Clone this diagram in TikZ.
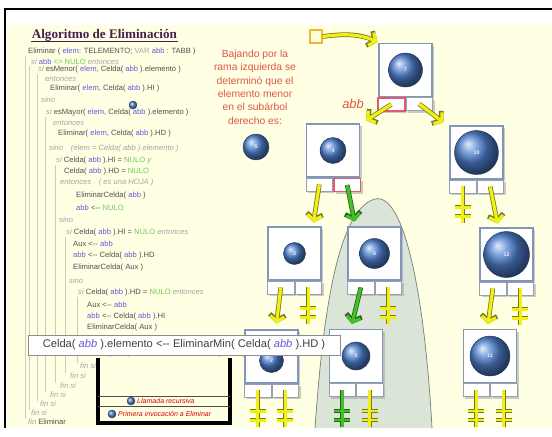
\documentclass[tikz,border=0pt]{standalone}
\usepackage{fontspec}
\setmainfont{Liberation Sans}
\newfontfamily\titlefont{Liberation Serif}
\usetikzlibrary{arrows.meta, shadows}

\definecolor{slidebg}{RGB}{255,255,228}
\definecolor{codetext}{RGB}{80,80,80}
\definecolor{codekw}{RGB}{165,165,165}
\definecolor{codevar}{RGB}{100,90,220}
\definecolor{codenul}{RGB}{110,200,90}
\definecolor{guidecol}{RGB}{205,205,190}
\definecolor{msgred}{RGB}{225,85,70}
\definecolor{titlecol}{RGB}{70,30,80}
\definecolor{boxedge}{RGB}{130,150,185}
\definecolor{celledge}{RGB}{150,160,175}
\definecolor{cellred}{RGB}{225,90,110}
\definecolor{ballblue}{RGB}{80,130,210}
\definecolor{yfill}{RGB}{240,240,20}
\definecolor{yedge}{RGB}{120,120,30}
\definecolor{gfill}{RGB}{70,190,40}
\definecolor{gedge}{RGB}{30,100,20}
\definecolor{subtree}{RGB}{218,228,215}
\definecolor{subedge}{RGB}{120,125,120}
\definecolor{rootedge}{RGB}{235,185,50}

\newcommand{\cdkw}[1]{\textcolor{codekw}{\itshape #1}}
\newcommand{\cdvar}[1]{\textcolor{codevar}{#1}}
\newcommand{\cdnul}[1]{\textcolor{codenul}{#1}}
\newcommand{\nullmark}[2]{\draw[#2] (#1.center) -- ++(0,37) (#1.center) ++(-8,21) -- ++(16,0) (#1.center) ++(-8,30) -- ++(16,0);}

\tikzstyle{code} = [anchor=west, inner sep=0pt, text=codetext, font=\fontsize{6.5}{7}\selectfont]
\tikzstyle{guide} = [draw=guidecol, line width=0.5pt]
\tikzstyle{titletext} = [anchor=west, inner sep=0.5pt, text=titlecol, font=\titlefont\bfseries\fontsize{11.2}{12}\selectfont]
\tikzstyle{msg} = [align=center, inner sep=0pt, text=msgred, font=\fontsize{8.8}{11.4}\selectfont]
\tikzstyle{tnode} = [rectangle, minimum width=1.59cm, minimum height=1.59cm, draw=boxedge, line width=0.9pt, fill=white, drop shadow={shadow xshift=2pt, shadow yshift=-2pt, fill=black!40}]
\tikzstyle{cell} = [rectangle, minimum width=0.795cm, minimum height=0.39cm, draw=celledge, line width=0.7pt, fill=white, drop shadow={shadow xshift=2pt, shadow yshift=-2pt, fill=black!40}]
\tikzstyle{redcell} = [cell, draw=cellred, line width=1.6pt]
\tikzstyle{tball} = [circle, inner sep=0pt, ball color=ballblue, draw=ballblue!45!black, line width=0.4pt, text=white!90!ballblue, font=\bfseries\fontsize{4.5}{4.5}\selectfont]
\tikzstyle{icon} = [circle, inner sep=0pt, minimum size=0.24cm, ball color=ballblue, draw=ballblue!45!black, line width=0.3pt]
\tikzstyle{rootbox} = [rectangle, minimum width=0.36cm, minimum height=0.39cm, draw=rootedge, line width=1.5pt, fill=yellow!15]
\tikzstyle{yarrow} = [draw=yfill, line width=2.7pt, -{Straight Barb[length=4.5pt, width=12pt]}, preaction={draw=yedge, line width=4pt, -{Straight Barb[length=5pt, width=13.5pt]}}]
\tikzstyle{garrow} = [draw=gfill, line width=2.7pt, -{Straight Barb[length=4.5pt, width=12pt]}, preaction={draw=gedge, line width=4pt, -{Straight Barb[length=5pt, width=13.5pt]}}]
\tikzstyle{ynull} = [draw=yfill, line width=2.3pt, preaction={draw=yedge, line width=3.4pt}]
\tikzstyle{gnull} = [draw=gfill, line width=2.3pt, preaction={draw=gedge, line width=3.4pt}]
\tikzstyle{celdabox} = [rectangle, minimum width=9.36cm, minimum height=0.6cm, draw=black!45, line width=0.7pt, fill=white, text=black!75, font=\fontsize{9.5}{10}\selectfont]
\tikzstyle{stackline} = [draw=black, line width=3.2pt, line join=miter]
\tikzstyle{stackrow} = [draw=black!70, line width=0.6pt]
\tikzstyle{stacktext} = [anchor=west, inner sep=0pt, text=red!85!black, font=\itshape\fontsize{6}{7}\selectfont]

\begin{document}
\begin{tikzpicture}[x=0.03cm, y=-0.03cm]
\useasboundingbox (0,0) rectangle (552,436);

% slide
\fill[white] (0,0) rectangle (552,436);
\fill[slidebg] (7,25) rectangle (552,428);
\draw[black, line width=1.6pt] (552,9) -- (5,9) -- (5,428);

% guide lines of the blocks
\draw[guide] (25,56) -- (25,419);
\draw[guide] (29,66) -- (29,410);
\draw[guide] (37,74) -- (37,401);
\draw[guide] (45,117) -- (45,392);
\draw[guide] (55,165) -- (55,383);
\draw[guide] (65,237) -- (65,373);
\draw[guide] (77,297) -- (77,363);

% algorithm
\node[titletext] (title) at (31,35) {Algoritmo de Eliminación};
\draw[titlecol, line width=0.9pt] (title.south west) -- (title.south east);
\node[code] (c01) at (28,52) {Eliminar ( \cdvar{elem}: TELEMENTO; \textcolor{codekw}{VAR} \cdvar{abb} : TABB )};
\node[code] (c02) at (31,62) {\cdkw{si} \cdvar{abb} \cdnul{<> NULO} \cdkw{entonces}};
\node[code] (c03) at (38,70) {\cdkw{si} esMenor( \cdvar{elem}, Celda( \cdvar{abb} ).elemento )};
\node[code] (c04) at (45,79) {\cdkw{entonces}};
\node[code] (c05) at (50,89) {Eliminar( \cdvar{elem}, Celda( \cdvar{abb} ).HI )};
\node[code] (c06) at (41,100) {\cdkw{sino}};
\node[icon] (i0) at (133,105) {};
\node[code] (c07) at (46,113) {\cdkw{si} esMayor( \cdvar{elem}, Celda( \cdvar{abb} ).elemento )};
\node[code] (c08) at (53,123) {\cdkw{entonces}};
\node[code] (c09) at (58,134) {Eliminar( \cdvar{elem}, Celda( \cdvar{abb} ).HD )};
\node[code] (c10) at (49,149) {\cdkw{sino\quad (elem = Celda( abb ).elemento )}};
\node[code] (c11) at (56,161) {\cdkw{si} Celda( \cdvar{abb} ).HI = \cdnul{NULO} \cdkw{y}};
\node[code] (c12) at (64,172) {Celda( \cdvar{abb} ).HD = \cdnul{NULO}};
\node[code] (c13) at (60,183) {\cdkw{entonces\quad ( es una HOJA )}};
\node[code] (c14) at (76,196) {EliminarCelda( \cdvar{abb} )};
\node[code] (c15) at (76,208) {\cdvar{abb} <-{}- \cdnul{NULO}};
\node[code] (c16) at (59,220) {\cdkw{sino}};
\node[code] (c17) at (66,233) {\cdkw{si} Celda( \cdvar{abb} ).HI = \cdnul{NULO} \cdkw{entonces}};
\node[code] (c18) at (73,244) {Aux <-{}- \cdvar{abb}};
\node[code] (c19) at (73,256) {\cdvar{abb} <-{}- Celda( \cdvar{abb} ).HD};
\node[code] (c20) at (73,268) {EliminarCelda( Aux )};
\node[code] (c21) at (69,281) {\cdkw{sino}};
\node[code] (c22) at (78,293) {\cdkw{si} Celda( \cdvar{abb} ).HD = \cdnul{NULO} \cdkw{entonces}};
\node[code] (c23) at (87,305) {Aux <-{}- \cdvar{abb}};
\node[code] (c24) at (87,317) {\cdvar{abb} <-{}- Celda( \cdvar{abb} ).HI};
\node[code] (c25) at (87,328) {EliminarCelda( Aux )};
\node[code] (c26) at (88,354) {Celda( \cdvar{abb} ).elemento <-{}- EliminarMin( Celda( \cdvar{abb} ).HD )};
\node[code] (f1) at (80,366) {\cdkw{fin si}};
\node[code] (f2) at (70,376) {\cdkw{fin si}};
\node[code] (f3) at (60,386) {\cdkw{fin si}};
\node[code] (f4) at (50,395) {\cdkw{fin si}};
\node[code] (f5) at (40,404) {\cdkw{fin si}};
\node[code] (f6) at (31,413) {\cdkw{fin si}};
\node[code] (f7) at (28,422) {\cdkw{fin} Eliminar};

% message
\node[msg] (msg) at (255,87) {Bajando por la\\rama izquierda se\\determinó que el\\elemento menor\\en el subárbol\\derecho es:};
\node[tball, minimum size=0.78cm] (b0) at (256,147) {5};
\node[text=msgred, font=\itshape\fontsize{11}{11}\selectfont, inner sep=0pt] (abbl) at (353,104) {abb};

% right subtree
\path[fill=subtree, draw=subedge, line width=0.6pt] (315,428) .. controls (322,330) and (335,210) .. (375,199) .. controls (405,192) and (425,300) .. (432,428);

% root
\node[rootbox] (root) at (316,36.5) {};
\node[tnode] (n7) at (405.5,70) {};
\node[tball, minimum size=1.02cm] (b7) at (n7) {7};
\node[redcell, anchor=north east] (n7l) at (n7.south) {};
\node[cell, anchor=north west] (n7r) at (n7.south) {};

% second level
\node[tnode] (n4) at (333,150.5) {};
\node[tball, minimum size=0.78cm] (b4) at (n4) {4};
\node[cell, anchor=north east] (n4l) at (n4.south) {};
\node[redcell, anchor=north west] (n4r) at (n4.south) {};
\node[tnode] (n10) at (476.5,152.5) {};
\node[tball, minimum size=1.32cm] (b10) at (n10) {10};
\node[cell, anchor=north east] (n10l) at (n10.south) {};
\node[cell, anchor=north west] (n10r) at (n10.south) {};

% third level
\node[tnode] (n3) at (294.5,253.5) {};
\node[tball, minimum size=0.66cm] (b3) at (n3) {3};
\node[cell, anchor=north east] (n3l) at (n3.south) {};
\node[cell, anchor=north west] (n3r) at (n3.south) {};
\node[tnode] (n6) at (374.5,253.5) {};
\node[tball, minimum size=0.9cm] (b6) at (n6) {6};
\node[cell, anchor=north east] (n6l) at (n6.south) {};
\node[cell, anchor=north west] (n6r) at (n6.south) {};
\node[tnode] (n12) at (506.5,254.5) {};
\node[tball, minimum size=1.38cm] (b12) at (n12) {12};
\node[cell, anchor=north east] (n12l) at (n12.south) {};
\node[cell, anchor=north west] (n12r) at (n12.south) {};

% fourth level
\node[tnode] (n2) at (271.5,356.5) {};
\node[tball, minimum size=0.72cm] (b2) at ([yshift=-0.12cm]n2.center) {2};
\node[cell, anchor=north east] (n2l) at (n2.south) {};
\node[cell, anchor=north west] (n2r) at (n2.south) {};
\node[tnode] (n5) at (356,356) {};
\node[tball, minimum size=0.84cm] (b5) at (n5) {5};
\node[cell, anchor=north east] (n5l) at (n5.south) {};
\node[cell, anchor=north west] (n5r) at (n5.south) {};
\node[tnode] (n11) at (490,356) {};
\node[tball, minimum size=1.2cm] (b11) at (n11) {11};
\node[cell, anchor=north east] (n11l) at (n11.south) {};
\node[cell, anchor=north west] (n11r) at (n11.south) {};

% pointers
\draw[yarrow] (root.east) .. controls (348,33) and (362,35) .. ([shift={(-1,-1)}]n7.north west);
\draw[yarrow] (n7l.center) -- ([shift={(6,-3)}]n4.north east);
\draw[yarrow] (n7r.center) -- ([shift={(-6,-3)}]n10.north west);
\draw[yarrow] (n4l.center) -- ([shift={(-8,-4)}]n3.north east);
\draw[garrow] (n4r.center) -- ([shift={(7,-5)}]n6.north west);
\draw[yarrow] (n10r.center) -- ([shift={(-9,-4)}]n12.north);
\draw[yarrow] (n3l.center) -- ([shift={(5,-6)}]n2.north);
\draw[garrow] (n6l.center) -- ([shift={(-4,-5)}]n5.north);
\draw[yarrow] (n12l.center) -- ([shift={(-2,-5)}]n11.north);

% empty pointers
\nullmark{n10l}{ynull}
\nullmark{n3r}{ynull}
\nullmark{n6r}{ynull}
\nullmark{n12r}{ynull}
\nullmark{n2l}{ynull}
\nullmark{n2r}{ynull}
\nullmark{n5l}{gnull}
\nullmark{n5r}{ynull}
\nullmark{n11l}{ynull}
\nullmark{n11r}{ynull}

% call stack
\draw[stackline] (98,358) -- (98,423) -- (230,423) -- (230,358);
\draw[stackrow] (98,396) -- (230,396);
\draw[stackrow] (98,406) -- (230,406);
\node[icon] (i1) at (131,401) {};
\node[stacktext] (s1) at (137,401) {Llamada recursiva};
\node[icon] (i2) at (112,414) {};
\node[stacktext] (s2) at (118,414) {Primera invocación a Eliminar};

% highlighted statement
\node[celdabox] (celda) at (184,345) {Celda( \textcolor{codevar}{\itshape abb} ).elemento <-{}- EliminarMin( Celda( \textcolor{codevar}{\itshape abb} ).HD )};

\end{tikzpicture}
\end{document}
